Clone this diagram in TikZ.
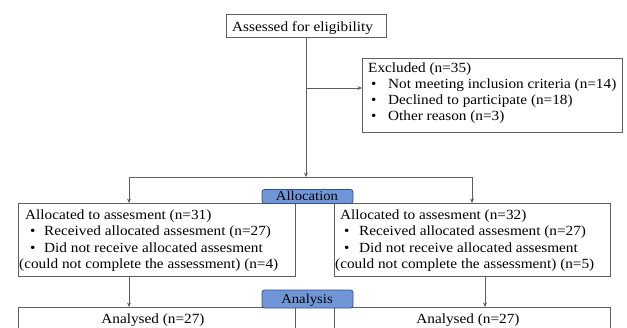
\documentclass[tikz,border=0pt]{standalone}
\usepackage{fontspec}
\setmainfont{Liberation Serif}[FakeStretch=1.09]
\usetikzlibrary{arrows.meta}
\definecolor{linegray}{RGB}{95,95,95}
\definecolor{stagefill}{RGB}{112,150,215}
\definecolor{stageborder}{RGB}{50,80,140}
\begin{document}
\begin{tikzpicture}[x=1pt,y=-1pt,
  box/.style={draw=linegray, line width=0.8pt, anchor=north west, inner sep=0pt, outer sep=0pt},
  stage/.style={draw=stageborder, fill=stagefill, rounded corners=2.5pt, line width=0.8pt, anchor=north west, inner sep=0pt, outer sep=0pt},
  txt/.style={anchor=base west, inner sep=0pt, font=\fontsize{14}{16}\selectfont},
  ctxt/.style={anchor=base, inner sep=0pt, font=\fontsize{14}{16}\selectfont},
  stxt/.style={anchor=base, inner sep=0pt, font=\fontsize{13.5}{16}\selectfont},
  conn/.style={draw=linegray, line width=0.8pt},
  arr/.style={conn, -{Stealth[length=4.5pt,width=4pt]}}
]
\useasboundingbox (0,0) rectangle (627,327);
\clip (0,0) rectangle (627,327);
\fill[white] (0,0) rectangle (627,327);

% boxes
\node[box, minimum width=160pt, minimum height=23pt] (assess) at (226,14) {};
\node[box, minimum width=260pt, minimum height=74pt] (excl) at (362,58) {};
\node[box, minimum width=277pt, minimum height=73pt] (leftbox) at (18,203) {};
\node[box, minimum width=276pt, minimum height=73pt] (rightbox) at (334,203) {};
\node[box, minimum width=277pt, minimum height=45pt] (anleft) at (18,307) {};
\node[box, minimum width=276pt, minimum height=45pt] (anright) at (334,307) {};
\node[stage, minimum width=91pt, minimum height=14pt] (alloc) at (262,189.5) {};
\node[stage, minimum width=91pt, minimum height=18pt] (analysis) at (262,290) {};
\node[stxt] (t-alloc) at (307,200.5) {Allocation};
\node[stxt] (t-analysis) at (307,303.5) {Analysis};

% texts
\node[txt] (t-assess) at (232,31) {Assessed for eligibility};

\node[txt] (t-ex0) at (368,72) {Excluded (n=35)};
\node[txt] (t-ex1) at (371,88) {\makebox[17pt][l]{\textbullet}Not meeting inclusion criteria (n=14)};
\node[txt] (t-ex2) at (371,104) {\makebox[17pt][l]{\textbullet}Declined to participate (n=18)};
\node[txt] (t-ex3) at (371,120) {\makebox[17pt][l]{\textbullet}Other reason (n=3)};

\node[txt] (t-l0) at (25,219) {Allocated to assesment (n=31)};
\node[txt] (t-l1) at (30,235) {\makebox[14pt][l]{\textbullet}Received allocated assesment (n=27)};
\node[txt] (t-l2) at (30,252) {\makebox[14pt][l]{\textbullet}Did not receive allocated assesment};
\node[txt] (t-l3) at (19,268) {(could not complete the assessment) (n=4)};

\node[txt] (t-r0) at (340,219) {Allocated to assesment (n=32)};
\node[txt] (t-r1) at (344,235) {\makebox[15pt][l]{\textbullet}Received allocated assesment (n=27)};
\node[txt] (t-r2) at (344,252) {\makebox[15pt][l]{\textbullet}Did not receive allocated assesment};
\node[txt] (t-r3) at (335,268) {(could not complete the assessment) (n=5)};

\node[ctxt] (t-al) at (153,323) {Analysed (n=27)};
\node[ctxt] (t-ar) at (468,323) {Analysed (n=27)};

% connector coordinates
\coordinate (split) at (306,177);
\coordinate (exclbranch) at (306,88);
\coordinate (lefttop) at (129,203);
\coordinate (righttop) at (472,203);
\coordinate (rightdown) at (485,276);

% connectors
\draw[arr] (assess.south) -- (split);
\draw[arr] (exclbranch) -- (exclbranch -| excl.west);
\draw[conn] (split -| lefttop) -- (split -| righttop);
\draw[arr] (split -| lefttop) -- (lefttop);
\draw[arr] (split -| righttop) -- (righttop);
\draw[arr] (lefttop |- leftbox.south) -- (lefttop |- anleft.north);
\draw[arr] (rightdown |- rightbox.south) -- (rightdown |- anright.north);
\end{tikzpicture}
\end{document}
